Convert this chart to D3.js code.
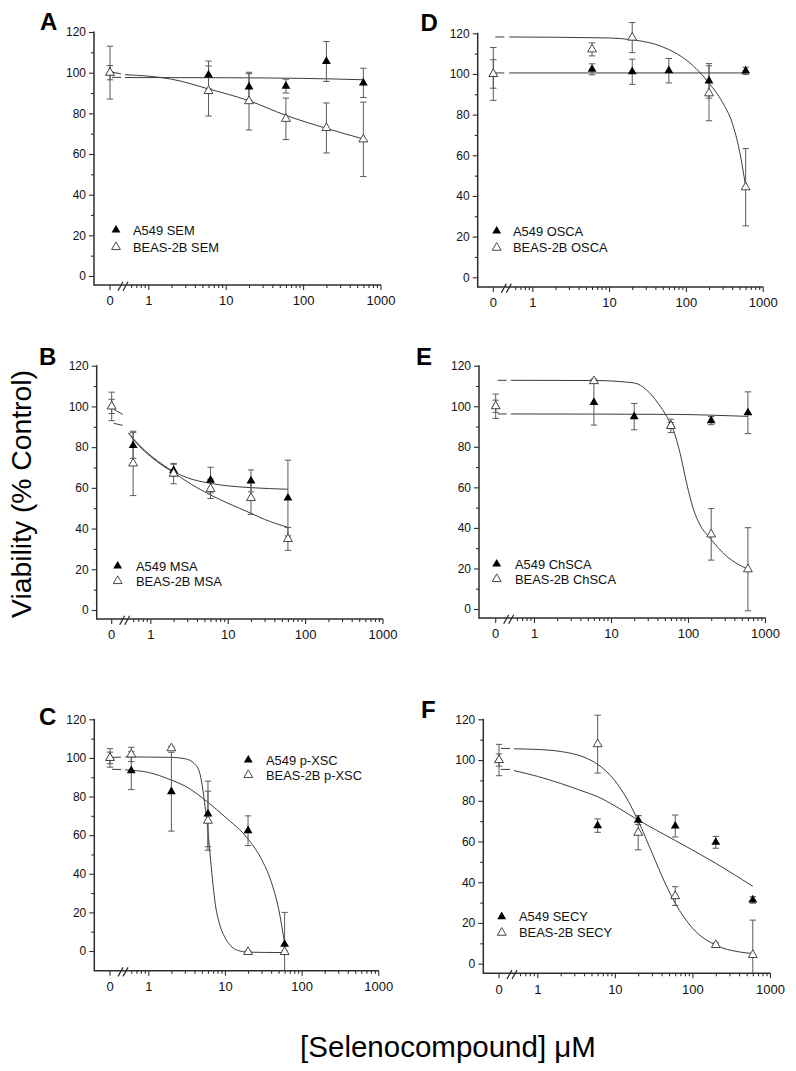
<!DOCTYPE html>
<html><head><meta charset="utf-8">
<script src="https://cdn.jsdelivr.net/npm/d3@7"></script>
<style>
html,body{margin:0;padding:0;background:#fff;}
svg{display:block;font-family:"Liberation Sans",Arial,Helvetica,sans-serif;}
</style></head><body>
<svg id="chart" width="796" height="1071"></svg>
<script>
// ---------- shared tick labels ----------
const yTicks = [0, 20, 40, 60, 80, 100, 120];
const yMinorTicks = [10, 30, 50, 70, 90, 110];
const xMajorTicks = [1, 10, 100, 1000];
const xTickLabels = ["1", "10", "100", "1000"];
const xControlLabel = "0";
const xMinorTicks = [0.6, 0.7, 0.8, 0.9, 2, 3, 4, 5, 6, 7, 8, 9, 20, 30, 40, 50, 60, 70, 80, 90, 200, 300, 400, 500, 600, 700, 800, 900];

// ---------- Panel A : SEM ----------
const concA = [0, 6, 20, 60, 200, 600];
const a549SEM = [100, 98.9, 93.0, 93.4, 105.5, 95.0];
const a549SEMErr = [3.5, 6.8, 6.5, 3.4, 9.8, 7.2];
const beasSEM = [100, 91.0, 86.0, 77.3, 72.8, 67.2];
const beasSEMErr = [13, 12.3, 14.2, 10.2, 12.3, 18.3];
const fitA549SEM = [[0.5, 97.6], [10, 97.5], [100, 97.2], [600, 96.5]];
const fitBeasSEM = [[0.5, 99.0], [1, 98.3], [2, 96.8], [6, 92.0], [20, 86.2], [60, 79.0], [200, 72.6], [600, 67.4]];
const stubA549SEM = [97.7, 97.7];
const stubBeasSEM = [100.3, 99.4];
const legendA = ["A549 SEM", "BEAS-2B SEM"];

// ---------- Panel B : MSA ----------
const concB = [0, 0.6, 2, 6, 20, 60];
const a549MSA = [100, 80.8, 68.6, 63.8, 63.4, 55.0];
const a549MSAErr = [3.5, 6.3, 3.0, 6.3, 5.4, 18.6];
const beasMSA = [100, 72.0, 67.0, 59.5, 55.0, 34.9];
const beasMSAErr = [7, 15.8, 5, 4.7, 8, 5.6];
const fitA549MSA = [[0.52, 87.0], [0.7, 81.5], [1, 76], [1.5, 71], [2, 68], [3, 65], [6, 62.2], [10, 61], [20, 60.1], [60, 59.3]];
const fitBeasMSA = [[0.52, 87.0], [0.7, 81], [1, 75.5], [1.5, 70.5], [2, 67.5], [3, 63], [6, 56.5], [10, 52.5], [20, 47.5], [30, 44.5], [60, 40.6]];
const stubA549MSA = [98.6, 96.1];
const stubBeasMSA = [91.7, 90.7];
const legendB = ["A549 MSA", "BEAS-2B MSA"];

// ---------- Panel C : p-XSC ----------
const concC = [0, 0.6, 2, 6, 20, 60];
const a549XSC = [100, 93.4, 82.5, 71.0, 62.3, 3.5];
const a549XSCErr = [3, 9.8, 20.4, 17, 7.7, 16.5];
const beasXSC = [100, 101.8, 105.0, 67.5, -0.5, -0.5];
const beasXSCErr = [4.8, 3.7, 1, 15.3, 0.6, 0.6];
const fitA549XSC = [[0.5, 93.8], [1, 92.5], [2, 88.5], [3, 85.5], [6, 77], [10, 69.5], [20, 58], [30, 47.5], [40, 36], [50, 22], [60, 4]];
const fitBeasXSC = [[0.5, 100.5], [2, 100.3], [3, 99.6], [4, 97], [4.7, 92], [5.5, 75], [6, 62], [6.5, 47], [7, 34], [7.5, 24], [8.5, 14], [10, 7], [12, 2.5], [15, 0.2], [20, -0.6], [60, -0.8]];
const stubA549XSC = [94.1, 94.0];
const stubBeasXSC = [100.3, 100.4];
const legendC = ["A549 p-XSC", "BEAS-2B p-XSC"];

// ---------- Panel D : OSCA ----------
const concD = [0, 6, 20, 60, 200, 600];
const a549OSCA = [100, 102.3, 101.1, 101.6, 96.6, 101.5];
const a549OSCAErr = [7, 2.7, 6.2, 6.0, 8.5, 1.8];
const beasOSCA = [100, 112.1, 117.9, null, 90.5, 44.3];
const beasOSCAErr = [13, 3.2, 7.4, null, 13.5, 19];
const fitA549OSCA = [[0.5, 100.5], [600, 100.5]];
const fitBeasOSCA = [[0.5, 118.2], [10, 117.7], [20, 116.8], [40, 114.6], [60, 112], [100, 107], [150, 101], [200, 95.5], [300, 86], [400, 76], [500, 62], [600, 44.6]];
const stubA549OSCA = [100.5, 100.5];
const stubBeasOSCA = [118.2, 118.2];
const legendD = ["A549 OSCA", "BEAS-2B OSCA"];

// ---------- Panel E : ChSCA ----------
const concE = [0, 6, 20, 60, 200, 600];
const a549ChSCA = [100, 101.9, 94.9, 90.5, 92.9, 96.8];
const a549ChSCAErr = [3, 11.2, 6.5, 1.5, 2, 10.3];
const beasChSCA = [100, 112.4, null, 90.3, 36.8, 19.6];
const beasChSCAErr = [6, 1, null, 3.3, 12.7, 20.5];
const fitA549ChSCA = [[0.5, 96.2], [60, 96.0], [200, 95.6], [600, 95.0]];
const fitBeasChSCA = [[0.5, 112.8], [6, 112.7], [20, 111.5], [29, 108], [41, 101.4], [53, 94.9], [64.5, 88.3], [79, 76.8], [96, 62], [117, 49.5], [143, 41.5], [193, 35], [318, 26], [600, 19.6]];
const stubA549ChSCA = [96.2, 96.2];
const stubBeasChSCA = [112.8, 112.8];
const legendE = ["A549 ChSCA", "BEAS-2B ChSCA"];

// ---------- Panel F : SECY ----------
const concF = [0, 6, 20, 60, 200, 600];
const a549SECY = [100, 67.8, 70.5, 67.6, 59.6, 31.3];
const a549SECYErr = [3, 3.3, 2.2, 5.4, 2.9, 1.6];
const beasSECY = [100, 107.8, 64.3, 33.2, 9.2, 4.3];
const beasSECYErr = [7.7, 14.2, 8.4, 4.6, 1, 17.1];
const fitA549SECY = [[0.5, 94.8], [1, 92], [2, 88.5], [4, 84.5], [6, 82], [10, 77.5], [20, 70.5], [60, 60.5], [200, 49.3], [600, 38]];
const fitBeasSECY = [[0.5, 105.5], [1, 105.2], [2, 104.2], [4, 101.4], [6, 97.9], [10, 89.9], [15, 79.6], [20, 70.1], [30, 54.6], [45, 39.1], [60, 29.7], [100, 17.5], [200, 9.1], [400, 5.8], [600, 5.0]];
const stubA549SECY = [95.4, 95.4];
const stubBeasSECY = [105.7, 105.7];
const legendF = ["A549 SECY", "BEAS-2B SECY"];

// ---------- layout (pixels) ----------
const layouts = {
  A: {axisX: 94, xc: 110, x1: 148.3, x1000: 380.5, y0: 276, y120: 32, axisY: 285, lx: 40, ly: 30, legX: 116, legY: 230, legDy: 17, legTX: 133},
  B: {axisX: 96.7, xc: 111.7, x1: 150.3, x1000: 382.5, y0: 610, y120: 365.7, axisY: 619, lx: 39, ly: 365, legX: 117.7, legY: 566, legDy: 15, legTX: 136},
  C: {axisX: 94.3, xc: 110, x1: 148.3, x1000: 378.3, y0: 951, y120: 719.3, axisY: 970.7, lx: 39, ly: 725, legX: 248.3, legY: 760, legDy: 15, legTX: 266},
  D: {axisX: 477.7, xc: 493.3, x1: 532.3, x1000: 762.7, y0: 277.3, y120: 33.3, axisY: 287, lx: 420.5, ly: 31, legX: 496.7, legY: 231, legDy: 16.7, legTX: 513},
  E: {axisX: 479, xc: 495.7, x1: 534, x1000: 765, y0: 609, y120: 365.7, axisY: 618, lx: 416, ly: 365, legX: 496.7, legY: 564, legDy: 15, legTX: 515},
  F: {axisX: 483.3, xc: 499, x1: 537.3, x1000: 770, y0: 963.7, y120: 719.3, axisY: 973.3, lx: 421, ly: 718, legX: 501.7, legY: 916.7, legDy: 16, legTX: 519}
};

const panels = [
  {id: "A", conc: concA, a: a549SEM, aE: a549SEMErr, b: beasSEM, bE: beasSEMErr, fa: fitA549SEM, fb: fitBeasSEM, sa: stubA549SEM, sb: stubBeasSEM, leg: legendA},
  {id: "B", conc: concB, a: a549MSA, aE: a549MSAErr, b: beasMSA, bE: beasMSAErr, fa: fitA549MSA, fb: fitBeasMSA, sa: stubA549MSA, sb: stubBeasMSA, leg: legendB},
  {id: "C", conc: concC, a: a549XSC, aE: a549XSCErr, b: beasXSC, bE: beasXSCErr, fa: fitA549XSC, fb: fitBeasXSC, sa: stubA549XSC, sb: stubBeasXSC, leg: legendC},
  {id: "D", conc: concD, a: a549OSCA, aE: a549OSCAErr, b: beasOSCA, bE: beasOSCAErr, fa: fitA549OSCA, fb: fitBeasOSCA, sa: stubA549OSCA, sb: stubBeasOSCA, leg: legendD},
  {id: "E", conc: concE, a: a549ChSCA, aE: a549ChSCAErr, b: beasChSCA, bE: beasChSCAErr, fa: fitA549ChSCA, fb: fitBeasChSCA, sa: stubA549ChSCA, sb: stubBeasChSCA, leg: legendE},
  {id: "F", conc: concF, a: a549SECY, aE: a549SECYErr, b: beasSECY, bE: beasSECYErr, fa: fitA549SECY, fb: fitBeasSECY, sa: stubA549SECY, sb: stubBeasSECY, leg: legendF}
];

const svg = d3.select("#chart");
const AXIS = "#2e2e2e", CURVE = "#3c3c3c", ERR = "#5a5a5a";
const triSize = 34;

panels.forEach(p => {
  const L = layouts[p.id];
  const g = svg.append("g");
  const y = d3.scaleLinear().domain([0, 120]).range([L.y0, L.y120]);
  const xLog = d3.scaleLog().domain([1, 1000]).range([L.x1, L.x1000]);
  const xPos = c => c === 0 ? L.xc : xLog(c);

  // y axis
  const yAx = g.append("g").attr("transform", `translate(${L.axisX},0)`)
    .call(d3.axisLeft(y).tickValues(yTicks).tickSize(5).tickPadding(3));
  yAx.select(".domain").remove();
  yAx.selectAll(".tick line").attr("stroke", AXIS).attr("stroke-width", 1.1);
  yAx.selectAll(".tick text").attr("font-size", 12).attr("font-family", "Liberation Sans, Arial, sans-serif").attr("fill", "#111");
  const yMin = g.append("g").attr("transform", `translate(${L.axisX},0)`)
    .call(d3.axisLeft(y).tickValues(yMinorTicks).tickSize(3).tickFormat(""));
  yMin.select(".domain").remove();
  yMin.selectAll(".tick line").attr("stroke", AXIS).attr("stroke-width", 1.1);
  g.append("line").attr("x1", L.axisX).attr("x2", L.axisX).attr("y1", y(120) - 0.5).attr("y2", L.axisY + 0.7)
    .attr("stroke", AXIS).attr("stroke-width", 1.5);

  // x axis
  const xAx = g.append("g").attr("transform", `translate(0,${L.axisY})`)
    .call(d3.axisBottom(xLog).tickValues(xMajorTicks).tickSize(5).tickPadding(6).tickFormat((d, i) => xTickLabels[i]));
  xAx.select(".domain").remove();
  xAx.selectAll(".tick line").attr("stroke", AXIS).attr("stroke-width", 1.1);
  xAx.selectAll(".tick text").attr("font-size", 13).attr("font-family", "Liberation Sans, Arial, sans-serif").attr("fill", "#111");
  const xMin = g.append("g").attr("transform", `translate(0,${L.axisY})`)
    .call(d3.axisBottom(xLog).tickValues(xMinorTicks).tickSize(3).tickFormat(""));
  xMin.select(".domain").remove();
  xMin.selectAll(".tick line").attr("stroke", AXIS).attr("stroke-width", 1.1);
  // control "0" tick
  g.append("line").attr("x1", L.xc).attr("x2", L.xc).attr("y1", L.axisY).attr("y2", L.axisY + 5).attr("stroke", AXIS).attr("stroke-width", 1.1);
  g.append("text").attr("x", L.xc).attr("y", L.axisY + 11).attr("dy", "0.71em").attr("text-anchor", "middle")
    .attr("font-size", 13).attr("fill", "#111").text(xControlLabel);
  g.append("line").attr("x1", L.axisX).attr("x2", L.x1000 + 0.6).attr("y1", L.axisY).attr("y2", L.axisY)
    .attr("stroke", AXIS).attr("stroke-width", 1.5);
  // axis break marks
  const bx = L.xc + 13;
  [-2.5, 2.5].forEach(o => {
    g.append("line").attr("x1", bx + o - 2.5).attr("y1", L.axisY + 5.7).attr("x2", bx + o + 2.5).attr("y2", L.axisY - 3.3)
      .attr("stroke", AXIS).attr("stroke-width", 1.3);
  });

  // fitted curves
  const line = d3.line().x(d => xLog(d[0])).y(d => y(d[1])).curve(d3.curveMonotoneX);
  [p.fa, p.fb].forEach(f => {
    g.append("path").attr("d", line(f)).attr("fill", "none").attr("stroke", CURVE).attr("stroke-width", 1);
  });
  [p.sa, p.sb].forEach(s => {
    g.append("line").attr("x1", L.xc + 2).attr("x2", L.xc + 11).attr("y1", y(s[0])).attr("y2", y(s[1]))
      .attr("stroke", CURVE).attr("stroke-width", 1);
  });

  // error bars
  function errBars(vals, errs) {
    vals.forEach((v, i) => {
      if (v == null || errs[i] == null) return;
      const cx = xPos(p.conc[i]);
      const top = y(v + errs[i]);
      let bot = y(v - errs[i]);
      let botCap = true;
      if (bot > L.axisY) { bot = L.axisY; botCap = false; }
      g.append("line").attr("x1", cx).attr("x2", cx).attr("y1", top).attr("y2", bot).attr("stroke", ERR).attr("stroke-width", 1);
      g.append("line").attr("x1", cx - 3.2).attr("x2", cx + 3.2).attr("y1", top).attr("y2", top).attr("stroke", ERR).attr("stroke-width", 1);
      if (botCap) g.append("line").attr("x1", cx - 3.2).attr("x2", cx + 3.2).attr("y1", bot).attr("y2", bot).attr("stroke", ERR).attr("stroke-width", 1);
    });
  }
  errBars(p.a, p.aE);
  errBars(p.b, p.bE);

  // markers
  const tri = d3.symbol(d3.symbolTriangle, triSize);
  p.a.forEach((v, i) => {
    if (v == null) return;
    g.append("path").attr("d", tri()).attr("transform", `translate(${xPos(p.conc[i])},${y(v)})`).attr("fill", "#000");
  });
  p.b.forEach((v, i) => {
    if (v == null) return;
    g.append("path").attr("d", tri()).attr("transform", `translate(${xPos(p.conc[i])},${y(v)})`)
      .attr("fill", "#fff").attr("stroke", "#333").attr("stroke-width", 0.9);
  });

  // legend
  g.append("path").attr("d", tri()).attr("transform", `translate(${L.legX},${L.legY})`).attr("fill", "#000");
  g.append("path").attr("d", tri()).attr("transform", `translate(${L.legX},${L.legY + L.legDy})`)
    .attr("fill", "#fff").attr("stroke", "#333").attr("stroke-width", 0.9);
  p.leg.forEach((t, i) => {
    g.append("text").attr("x", L.legTX).attr("y", L.legY + i * L.legDy).attr("dy", "0.36em")
      .attr("font-size", 12.9).attr("fill", "#111").text(t);
  });

  // panel letter
  g.append("text").attr("x", L.lx).attr("y", L.ly).attr("font-size", 24).attr("font-weight", "bold").attr("fill", "#000").text(p.id);
});

// axis titles
svg.append("text").attr("transform", "translate(31,494) rotate(-90)").attr("text-anchor", "middle")
  .attr("font-size", 28.3).attr("fill", "#000").text("Viability (% Control)");
svg.append("text").attr("x", 448).attr("y", 1057).attr("text-anchor", "middle")
  .attr("font-size", 29.5).attr("fill", "#000").text("[Selenocompound] μM");
</script>
</body></html>
